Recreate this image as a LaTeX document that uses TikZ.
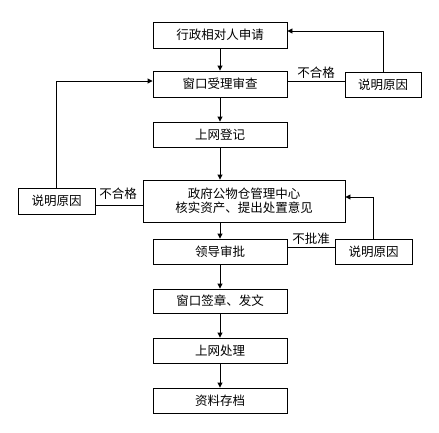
\documentclass[tikz,border=0pt]{standalone}
\usepackage{fontspec}
\setmainfont{Noto Sans CJK SC}
\usetikzlibrary{arrows.meta}
\begin{document}
\begin{tikzpicture}[x=1pt,y=-1pt,
  box/.style={draw,line width=0.9pt,inner sep=0pt,minimum width=134pt,minimum height=25pt,font=\fontsize{12.5}{15}\selectfont},
  rbox/.style={box,minimum width=77pt},
  lbl/.style={inner sep=0pt,font=\fontsize{12.5}{15}\selectfont},
  line/.style={line width=0.9pt},
  arr/.style={line,-{Triangle[length=5pt,width=5pt]}}]
\useasboundingbox[fill=white] (0,0) rectangle (439,432);
\node[box,minimum height=26pt] (b1) at (220,35) {行政相对人申请};
\node[box,minimum height=26pt] (b2) at (220,84) {窗口受理审查};
\node[box] (b3) at (220,134.5) {上网登记};
\node[box,minimum width=202pt,minimum height=42pt,align=center] (b4) at (244,201) {政府公物仓管理中心\\[-1pt]核实资产、提出处置意见};
\node[box] (b5) at (220,251.5) {领导审批};
\node[box,minimum height=24pt] (b6) at (220,301) {窗口签章、发文};
\node[box] (b7) at (220,350.5) {上网处理};
\node[box] (b8) at (220,400.5) {资料存档};
\node[rbox,minimum width=76pt] (r1) at (383,84.5) {说明原因};
\node[rbox,minimum height=26pt] (l1) at (56.5,201) {说明原因};
\node[rbox] (r2) at (373.5,251.5) {说明原因};
\draw[arr] (b1) -- (b2);
\draw[arr] (b2) -- (b3);
\draw[arr] (b3.south) -- (b3.south |- b4.north);
\draw[arr] (b4.south -| b5.north) -- (b5.north);
\draw[arr] (b5) -- (b6);
\draw[arr] (b6) -- (b7);
\draw[arr] (b7) -- (b8);
\draw[line] ([yshift=2.5pt]b2.east) -- node[lbl,above=3pt] {不合格} ([yshift=2.5pt]b2.east -| r1.west);
\draw[arr] (r1.north) |- ([yshift=4pt]b1.east);
\draw[line] ([yshift=-4pt]b4.west) -- node[lbl,above=5pt,xshift=-1pt] {不合格} ([yshift=-4pt]b4.west -| l1.east);
\draw[arr] (l1.north) |- ([yshift=3pt]b2.west);
\draw[line] ([yshift=4.5pt]b5.east) -- node[lbl,above=2pt] {不批准} ([yshift=4.5pt]b5.east -| r2.west);
\draw[arr] (r2.north) |- ([yshift=4pt]b4.east);
\end{tikzpicture}
\end{document}
